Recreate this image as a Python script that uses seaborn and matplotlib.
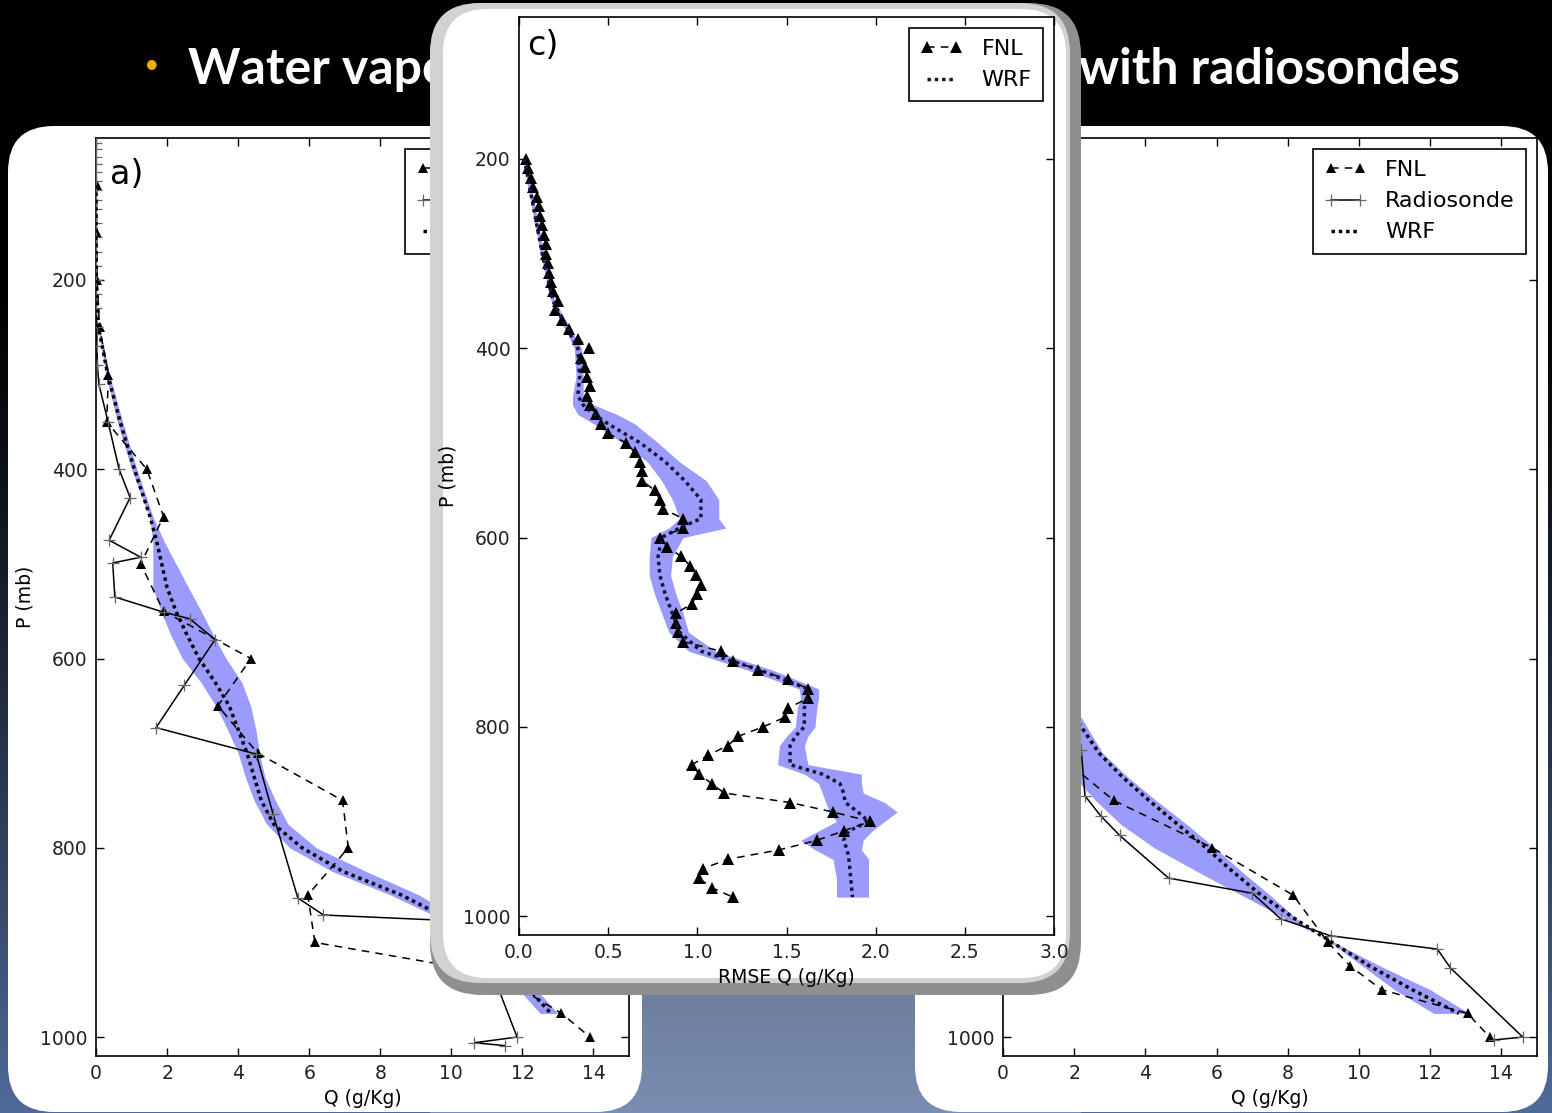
import numpy as np
import matplotlib
matplotlib.use("Agg")
import matplotlib.pyplot as plt
from matplotlib.patches import FancyBboxPatch, Rectangle
import seaborn as sns

W, H = 1552, 1113

# ---------------- data: panel a (Q, g/kg) ----------------
a_fnl_p = [100, 150, 200, 250, 300, 350, 400, 450, 500, 550, 600, 650, 700, 750, 800, 850, 900, 925, 950, 975, 1000]
a_fnl_q = [0.02, 0.02, 0.03, 0.1, 0.35, 0.3, 1.43, 1.9, 1.26, 1.9, 4.36, 3.43, 4.55, 6.94, 7.1, 5.96, 6.16, 10.0, 12.0, 13.1, 13.9]

a_rs_p = [55, 62, 70, 78, 86, 95, 105, 115, 125, 140, 155, 170, 185, 200, 215, 230, 250, 270, 290, 310, 350, 400, 430,
          475, 493, 499, 535, 551, 558, 580, 628, 673, 701, 764, 853, 871, 878, 1000, 1006, 1009]
a_rs_q = [0.0, 0.0, 0.0, 0.0, 0.0, 0.0, 0.0, 0.0, 0.0, 0.0, 0.0, 0.0, 0.0, 0.0, 0.01, 0.01, 0.02, 0.03, 0.04, 0.08, 0.34, 0.65, 0.96,
          0.37, 1.26, 0.47, 0.53, 1.9, 2.64, 3.35, 2.49, 1.69, 4.51, 4.98, 5.68, 6.4, 10.6, 11.85, 10.65, 11.5]

a_wrf_p = [100, 150, 200, 250, 300, 350, 400, 450, 475, 500, 525, 550, 575, 600, 625, 650, 675, 700, 725, 750, 775, 800, 825, 850, 875, 900, 925, 950, 975]
a_wrf_q = [0.0, 0.0, 0.01, 0.07, 0.33, 0.68, 1.08, 1.52, 1.7, 1.85, 2.0, 2.25, 2.56, 2.9, 3.35, 3.75, 4.0, 4.25, 4.45, 4.65, 5.0, 5.8, 6.95, 8.6, 9.9, 10.7, 11.5, 12.2, 12.8]
a_band_p = [250, 300, 350, 400, 450, 475, 500, 525, 550, 575, 600, 625, 650, 675, 700, 725, 750, 775, 800, 825, 850, 875, 900, 925, 950, 975]
a_band_lo = [0.05, 0.28, 0.6, 1.0, 1.5, 1.6, 1.6, 1.6, 1.83, 2.1, 2.43, 2.95, 3.37, 3.7, 4.0, 4.2, 4.45, 4.8, 5.45, 6.65, 8.3, 9.7, 10.5, 11.2, 11.9, 12.5]
a_band_hi = [0.1, 0.38, 0.75, 1.15, 1.6, 1.9, 2.25, 2.6, 2.96, 3.3, 3.66, 4.1, 4.35, 4.5, 4.6, 4.75, 5.05, 5.4, 6.2, 7.6, 9.1, 10.2, 11.0, 11.7, 12.4, 13.0]

# ---------------- data: panel b (Q, g/kg) ----------------
b_fnl_p = [100, 150, 200, 250, 300, 350, 400, 450, 500, 550, 600, 650, 700, 750, 800, 850, 900, 925, 950, 975, 1000]
b_fnl_q = [0.02, 0.02, 0.03, 0.08, 0.2, 0.35, 0.5, 0.7, 0.9, 1.0, 1.2, 1.4, 1.5, 3.11, 5.88, 8.15, 9.13, 9.75, 10.64, 13.05, 13.67]

b_rs_p = [100, 200, 300, 400, 500, 600, 650, 697, 745, 766, 787, 832, 848, 875, 893, 907, 927, 1000, 1003]
b_rs_q = [0.0, 0.02, 0.1, 0.4, 0.9, 1.5, 1.9, 2.2, 2.3, 2.74, 3.28, 4.65, 7.0, 7.8, 9.2, 12.2, 12.57, 14.6, 13.8]

b_wrf_p = [100, 150, 200, 250, 300, 350, 400, 450, 500, 550, 600, 650, 700, 725, 750, 775, 800, 825, 850, 875, 900, 925, 950, 975]
b_wrf_q = [0.0, 0.0, 0.01, 0.05, 0.15, 0.3, 0.45, 0.65, 0.85, 1.1, 1.4, 1.8, 2.7, 3.35, 4.1, 4.9, 5.7, 6.45, 7.25, 8.2, 9.25, 10.3, 11.5, 12.8]
b_band_p = [650, 700, 725, 750, 775, 800, 825, 850, 875, 890, 900, 925, 950, 975]
b_band_lo = [1.5, 1.8, 2.0, 2.6, 3.3, 4.25, 5.45, 6.7, 7.95, 8.74, 9.2, 10.1, 11.0, 12.1]
b_band_hi = [2.0, 2.8, 3.5, 4.3, 5.15, 5.95, 6.7, 7.5, 8.25, 8.74, 9.3, 10.6, 12.0, 13.1]

# ---------------- data: panel c (RMSE Q, g/kg) ----------------
c_fnl_p = list(range(200, 990, 10))
c_fnl_r = [0.04, 0.05, 0.07, 0.08, 0.10, 0.11, 0.12, 0.13, 0.14, 0.15,
           0.15, 0.16, 0.17, 0.18, 0.19, 0.22, 0.20, 0.24, 0.28, 0.33,
           0.39, 0.35, 0.37, 0.38, 0.40, 0.38, 0.40, 0.43, 0.46, 0.50,
           0.60, 0.65, 0.68, 0.69, 0.69, 0.76, 0.79, 0.81, 0.92, 0.92,
           0.79, 0.83, 0.91, 0.96, 0.99, 1.02, 1.00, 0.97, 0.88, 0.88,
           0.89, 0.92, 1.13, 1.20, 1.34, 1.51, 1.62, 1.62, 1.51, 1.49,
           1.37, 1.23, 1.17, 1.06, 0.97, 1.01, 1.08, 1.15, 1.52, 1.76,
           1.97, 1.82, 1.67, 1.46, 1.17, 1.03, 1.01, 1.08, 1.20]

c_wrf_p = [200, 250, 300, 350, 400, 430, 450, 460, 470, 480, 500, 520, 540, 560, 580, 590, 600, 620, 640, 660, 680, 700,
           720, 740, 760, 770, 780, 800, 810, 820, 840, 850, 860, 870, 880, 890, 900, 910, 920, 930, 940, 960, 980]
c_wrf_r = [0.03, 0.08, 0.13, 0.19, 0.33, 0.34, 0.33, 0.36, 0.42, 0.5, 0.68, 0.82, 0.93, 1.02, 1.02, 0.9, 0.8, 0.78, 0.79, 0.82, 0.86, 0.9,
           1.02, 1.35, 1.62, 1.62, 1.6, 1.6, 1.55, 1.52, 1.52, 1.7, 1.8, 1.82, 1.83, 1.9, 1.96, 1.85, 1.82, 1.84, 1.85, 1.86, 1.87]
c_band_lo = [0.02, 0.07, 0.12, 0.18, 0.31, 0.32, 0.3, 0.3, 0.33, 0.42, 0.58, 0.72, 0.8, 0.86, 0.9, 0.84, 0.74, 0.73, 0.73, 0.76, 0.8, 0.84,
             0.95, 1.28, 1.57, 1.58, 1.56, 1.55, 1.5, 1.46, 1.45, 1.6, 1.68, 1.7, 1.72, 1.74, 1.78, 1.68, 1.58, 1.66, 1.76, 1.78, 1.78]
c_band_hi = [0.04, 0.09, 0.14, 0.2, 0.35, 0.36, 0.36, 0.42, 0.55, 0.65, 0.78, 0.9, 1.05, 1.12, 1.12, 1.16, 0.92, 0.86, 0.85, 0.88, 0.92, 0.95,
             1.1, 1.42, 1.68, 1.68, 1.67, 1.66, 1.62, 1.6, 1.62, 1.92, 1.92, 1.93, 2.05, 2.12, 2.05, 1.98, 1.93, 1.92, 1.96, 1.96, 1.96]

p_ticks = [200, 400, 600, 800, 1000]
q_ticks = [0, 2, 4, 6, 8, 10, 12, 14]
r_ticks = [0.0, 0.5, 1.0, 1.5, 2.0, 2.5, 3.0]
r_tick_labels = ["0.0", "0.5", "1.0", "1.5", "2.0", "2.5", "3.0"]

BAND = "#9b9bfb"

plt.rcParams["font.family"] = ["DejaVu Sans"]
fig = plt.figure(figsize=(W / 100, H / 100), dpi=100)


def rect(x0, y0, x1, y1):
    return [x0 / W, 1 - y1 / H, (x1 - x0) / W, (y1 - y0) / H]


# ---------------- background ----------------
bg = fig.add_axes([0, 0, 1, 1], zorder=0)
t = np.clip((np.arange(H) - 260) / (H - 260), 0, 1) ** 1.3
bottom = np.array([80, 106, 154]) / 255
grad = np.repeat((t[:, None] * bottom[None, :])[:, None, :], 2, axis=1)
bg.imshow(grad, extent=[0, W, H, 0], aspect="auto", zorder=0)
bg.set_xlim(0, W)
bg.set_ylim(H, 0)
bg.axis("off")
bg.add_patch(Rectangle((430, 995), 651, 118, facecolor="white", alpha=0.24, lw=0, zorder=1))
for x0, x1 in [(8, 642), (915, 1548)]:
    bg.add_patch(FancyBboxPatch((x0, 126), x1 - x0, 1112 - 126,
                                boxstyle="round,pad=0,rounding_size=46",
                                fc="white", ec="none", zorder=2))
bg.text(152, 68, "\u2022", color="#F2A900", fontsize=24, ha="center", va="center", zorder=3)
bg.text(188, 84, "Water vapor", color="white", fontsize=36, family="Lato", weight="bold",
        ha="left", va="baseline", zorder=3)
bg.text(1460, 84, "with radiosondes", color="white", fontsize=36, family="Lato", weight="bold",
        ha="right", va="baseline", zorder=3)

# ---------------- axes ----------------
ax_a = fig.add_axes(rect(96, 138, 629, 1056), zorder=1)
ax_b = fig.add_axes(rect(1003, 138, 1537, 1056), zorder=1)

ov = fig.add_axes([0, 0, 1, 1], zorder=2)
ov.set_xlim(0, W)
ov.set_ylim(H, 0)
ov.axis("off")
ov.patch.set_visible(False)
ov.add_patch(FancyBboxPatch((430, 3), 651, 992, boxstyle="round,pad=0,rounding_size=52",
                            fc="#8f8f8f", ec="none"))
ov.add_patch(FancyBboxPatch((430, 3), 640, 980, boxstyle="round,pad=0,rounding_size=50",
                            fc="#d2d2d2", ec="none"))
ov.add_patch(FancyBboxPatch((443, 9), 623, 969, boxstyle="round,pad=0,rounding_size=44",
                            fc="white", ec="none"))

ax_c = fig.add_axes(rect(519, 17, 1054, 935), zorder=3)


def style(ax, xlim, xticks):
    ax.set_facecolor("white")
    ax.set_xlim(*xlim)
    ax.set_ylim(1020, 50)
    ax.set_xticks(xticks)
    ax.set_yticks(p_ticks)
    ax.tick_params(direction="in", top=True, right=True, length=6, width=1,
                   labelsize=13.5, pad=6, labelcolor="#222222")
    for s in ax.spines.values():
        s.set_linewidth(1.2)
        s.set_color("black")


def fnl(ax, q, p, ms=7.5):
    sns.lineplot(x=q, y=p, ax=ax, sort=False, estimator=None, color="black",
                 linestyle=(0, (5, 4)), linewidth=1.1, marker="^", markersize=ms,
                 markeredgewidth=0, markerfacecolor="black", label="FNL", zorder=3)


def rs(ax, q, p):
    sns.lineplot(x=q, y=p, ax=ax, sort=False, estimator=None, color="black",
                 linestyle="-", linewidth=1.1, marker="+", markersize=9,
                 markeredgewidth=0.9, markeredgecolor="#666666", label="Radiosonde", zorder=3)


def wrf(ax, q, p, col="black"):
    sns.lineplot(x=q, y=p, ax=ax, sort=False, estimator=None, color=col,
                 linestyle=(0, (1, 1.1)), linewidth=2.5, label="WRF", zorder=4)


def legend(ax):
    lg = ax.legend(loc="upper right", fontsize=16, numpoints=2, handlelength=1.9,
                   handletextpad=0.85, borderpad=0.5, labelspacing=0.5,
                   borderaxespad=0.5, fancybox=False, framealpha=1, edgecolor="black")
    lg.get_frame().set_linewidth(1.2)
    lg.set_zorder(10)
    return lg


# panel a
style(ax_a, (0, 15), q_ticks)
ax_a.fill_betweenx(a_band_p, a_band_lo, a_band_hi, color=BAND, lw=0, zorder=2)
fnl(ax_a, a_fnl_q, a_fnl_p)
rs(ax_a, a_rs_q, a_rs_p)
wrf(ax_a, a_wrf_q, a_wrf_p)
ax_a.set_xlabel("Q (g/Kg)", fontsize=13.5)
ax_a.set_ylabel("P (mb)", fontsize=13.5)
ax_a.text(0.026, 0.978, "a)", transform=ax_a.transAxes, fontsize=24, va="top", ha="left")
legend(ax_a)

# panel b
style(ax_b, (0, 15), q_ticks)
ax_b.fill_betweenx(b_band_p, b_band_lo, b_band_hi, color=BAND, lw=0, zorder=2)
fnl(ax_b, b_fnl_q, b_fnl_p)
rs(ax_b, b_rs_q, b_rs_p)
wrf(ax_b, b_wrf_q, b_wrf_p)
ax_b.set_xlabel("Q (g/Kg)", fontsize=13.5)
ax_b.set_ylabel("P (mb)", fontsize=13.5)
ax_b.text(0.026, 0.978, "b)", transform=ax_b.transAxes, fontsize=24, va="top", ha="left")
legend(ax_b)

# panel c
style(ax_c, (0, 3), r_ticks)
ax_c.set_xticklabels(r_tick_labels)
ax_c.fill_betweenx(c_wrf_p, c_band_lo, c_band_hi, color=BAND, lw=0, zorder=2)
fnl(ax_c, c_fnl_r, c_fnl_p, ms=8)
wrf(ax_c, c_wrf_r, c_wrf_p, col="#14143a")
ax_c.set_xlabel("RMSE Q (g/Kg)", fontsize=13.5)
ax_c.set_ylabel("P (mb)", fontsize=13.5)
ax_c.text(0.015, 0.987, "c)", transform=ax_c.transAxes, fontsize=24, va="top", ha="left")
legend(ax_c)

fig.savefig("out.png", dpi=100)
